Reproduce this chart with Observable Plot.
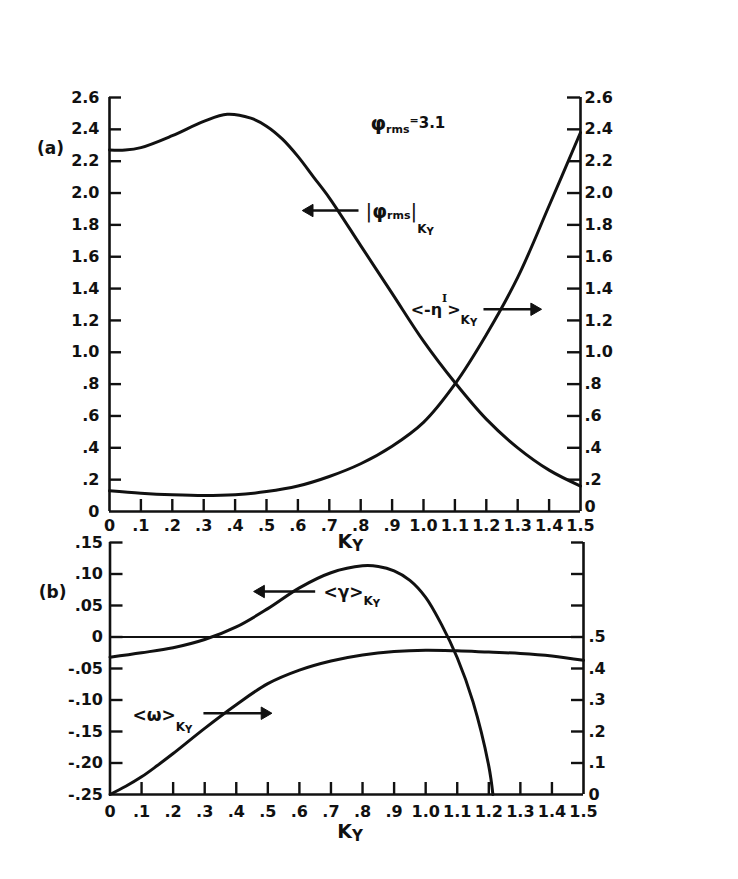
<!DOCTYPE html>
<html>
<head>
<meta charset="utf-8">
<script src="https://cdn.jsdelivr.net/npm/d3@7"></script>
<script src="https://cdn.jsdelivr.net/npm/@observablehq/plot@0.6"></script>
<style>
  html, body { margin: 0; padding: 0; background: #fff; }
  #fig { position: relative; width: 738px; height: 879px; overflow: hidden; background: #fff; }
  #fig svg { position: absolute; left: 0; }
</style>
</head>
<body>
<div id="fig"></div>
<script>
// ---- panel (a): rms potential and <-eta^I> versus K_Y ----
const kyPhi  = [0, 0.05, 0.1, 0.2, 0.3, 0.375, 0.45, 0.5, 0.55, 0.6, 0.65, 0.7, 0.8, 0.9, 1.0, 1.1, 1.2, 1.3, 1.4, 1.5];
const phiRms = [2.27, 2.27, 2.285, 2.36, 2.45, 2.495, 2.47, 2.42, 2.34, 2.23, 2.10, 1.97, 1.67, 1.37, 1.07, 0.81, 0.58, 0.40, 0.26, 0.16];

const kyEta = [0, 0.1, 0.2, 0.3, 0.4, 0.5, 0.6, 0.7, 0.8, 0.9, 1.0, 1.1, 1.2, 1.3, 1.4, 1.5];
const etaI  = [0.13, 0.115, 0.105, 0.10, 0.105, 0.125, 0.16, 0.22, 0.30, 0.41, 0.56, 0.80, 1.11, 1.47, 1.92, 2.38];

// ---- panel (b): growth rate <gamma> (left axis) and frequency <omega> (right axis) ----
const kyGamma   = [0, 0.1, 0.2, 0.3, 0.4, 0.5, 0.6, 0.7, 0.8, 0.85, 0.9, 0.95, 1.0, 1.05, 1.1, 1.15, 1.2, 1.213];
const gammaVals = [-0.032, -0.025, -0.017, -0.004, 0.016, 0.045, 0.078, 0.102, 0.113, 0.112, 0.105, 0.090, 0.063, 0.020, -0.033, -0.103, -0.205, -0.25];

const kyOmega   = [0, 0.05, 0.1, 0.15, 0.2, 0.3, 0.4, 0.5, 0.6, 0.7, 0.8, 0.9, 1.0, 1.1, 1.2, 1.3, 1.4, 1.5];
const omegaVals = [0, 0.026, 0.056, 0.092, 0.13, 0.21, 0.285, 0.352, 0.395, 0.424, 0.443, 0.454, 0.458, 0.456, 0.452, 0.448, 0.44, 0.426];

// ---- tick values ----
const kyTicks    = [0, 0.1, 0.2, 0.3, 0.4, 0.5, 0.6, 0.7, 0.8, 0.9, 1.0, 1.1, 1.2, 1.3, 1.4, 1.5];
const topTicks   = [0, 0.2, 0.4, 0.6, 0.8, 1.0, 1.2, 1.4, 1.6, 1.8, 2.0, 2.2, 2.4, 2.6];
const gammaTicks = [-0.25, -0.20, -0.15, -0.10, -0.05, 0, 0.05, 0.10, 0.15];
const omegaTicks = [0, 0.1, 0.2, 0.3, 0.4, 0.5];

const FONT = "DejaVu Sans";
const ink = "#111";
const TICK_FONT = 16;

const fmtTop   = d => Math.abs(d) < 1e-9 ? "0" : d < 1 ? d.toFixed(1).slice(1) : d.toFixed(1);
const fmtGamma = d => Math.abs(d) < 1e-9 ? "0" : (d < 0 ? "-" : "") + Math.abs(d).toFixed(2).slice(1);
const fmtOmega = v => v < 1e-9 ? "0" : v.toFixed(1).slice(1);

// omega is read on the right axis: 0..0.5 spans the same height as -0.25..0
const omegaToLeft = v => v / 2 - 0.25;
const leftToOmega = d => (d + 0.25) * 2;

const zip = (xs, ys) => xs.map((x, i) => ({x, y: ys[i]}));

// a run of text pieces (for sub/superscripts), laid out left to right
const meas = document.createElement("canvas").getContext("2d");
function textRun(x, y, parts) {
  let off = 0;
  return parts.map(p => {
    const weight = p.weight ?? "bold", family = p.family ?? FONT;
    const m = Plot.text([{x, y}], {
      x: "x", y: "y", text: () => p.text,
      dx: off + (p.dx ?? 0), dy: p.dy ?? 0,
      textAnchor: "start", lineAnchor: "middle",
      fontSize: p.size, fontWeight: weight, fontFamily: family, fill: ink
    });
    meas.font = `${weight} ${p.size}px "${family}"`;
    off += meas.measureText(p.text).width + (p.dx ?? 0) + (p.gap ?? 0);
    return m;
  });
}

// horizontal arrow with a solid head at (xTip, y)
function arrow(xFrom, xTip, y, pxPerUnit) {
  const dir = Math.sign(xTip - xFrom);
  const back = 4 / pxPerUnit;
  return [
    Plot.link([{x1: xFrom, x2: xTip - dir * back, y}], {x1: "x1", x2: "x2", y1: "y", y2: "y", stroke: ink, strokeWidth: 2.6}),
    Plot.dot([{x: xTip - dir * back, y}], {x: "x", y: "y", symbol: "triangle", r: 4.6, fill: ink, stroke: ink, strokeWidth: 1, rotate: dir > 0 ? 90 : -90})
  ];
}

// ---------------- panel (a) ----------------
const aLeft = 109, aRight = 580;
const aPx = (aRight - aLeft) / 1.5;        // pixels per unit K_Y
const aPy = (511 - 97) / 2.6;              // pixels per unit value
const plotA = Plot.plot({
  width: 738, height: 556,
  marginLeft: aLeft, marginRight: 738 - aRight, marginTop: 97, marginBottom: 45,
  x: {domain: [0, 1.5]},
  y: {domain: [0, 2.6]},
  style: {fontFamily: FONT, fontSize: TICK_FONT + "px", fontWeight: "bold", background: "none", overflow: "visible", color: ink},
  marks: [
    // frame: left, right and bottom axes
    Plot.ruleX([0, 1.5], {stroke: ink, strokeWidth: 2.6}),
    Plot.ruleY([0], {stroke: ink, strokeWidth: 2.6}),
    // inward ticks
    Plot.ruleY(topTicks.filter(d => d > 0), {x1: 0, x2: 12 / aPx, stroke: ink, strokeWidth: 2.4}),
    Plot.ruleY(topTicks.filter(d => d > 0), {x1: 1.5 - 13 / aPx, x2: 1.5, stroke: ink, strokeWidth: 2.4}),
    Plot.ruleX(kyTicks.filter(d => d > 0 && d < 1.5), {y1: 0, y2: 12 / aPy, stroke: ink, strokeWidth: 2.4}),
    // tick labels
    Plot.axisY(topTicks, {anchor: "left", tickSize: 0, tickPadding: 10, tickFormat: fmtTop, label: null, fontSize: TICK_FONT}),
    Plot.axisY(topTicks.filter(d => d > 0), {anchor: "right", tickSize: 0, tickPadding: 4, tickFormat: fmtTop, label: null, fontSize: TICK_FONT}),
    Plot.axisY([0], {anchor: "right", tickSize: 0, tickPadding: 4, tickFormat: fmtTop, label: null, fontSize: TICK_FONT, dy: -5}),
    Plot.axisX(kyTicks, {anchor: "bottom", tickSize: 0, tickPadding: 8, tickFormat: fmtTop, label: null, fontSize: TICK_FONT}),
    // curves
    Plot.line(zip(kyPhi, phiRms), {x: "x", y: "y", curve: "catmull-rom", stroke: ink, strokeWidth: 3}),
    Plot.line(zip(kyEta, etaI), {x: "x", y: "y", curve: "catmull-rom", stroke: ink, strokeWidth: 3}),
    // annotations
    Plot.text([{x: -0.188, y: 2.28}], {x: "x", y: "y", text: () => "(a)", fontSize: 17, fontWeight: "bold", fill: ink}),
    ...textRun(0.831, 2.437, [
      {text: "φ", size: 20},
      {text: "rms", size: 11, dy: 6},
      {text: "=", size: 11, dy: -3},
      {text: "3.1", size: 15}
    ]),
    ...arrow(0.793, 0.624, 1.89, aPx),
    ...textRun(0.815, 1.884, [
      {text: "|", size: 20, weight: "normal"},
      {text: "φ", size: 19},
      {text: "rms", size: 11, dy: 4},
      {text: "|", size: 20, weight: "normal"},
      {text: "K", size: 12, dy: 18},
      {text: "Y", size: 10, dy: 20}
    ]),
    ...textRun(0.959, 1.269, [
      {text: "<-η", size: 16},
      {text: "I", size: 11, dy: -11, family: "DejaVu Serif"},
      {text: ">", size: 16},
      {text: "K", size: 12, dy: 11},
      {text: "Y", size: 10, dy: 13}
    ]),
    ...arrow(1.191, 1.366, 1.27, aPx),
    // axis title
    ...textRun(0.726, -0.19, [
      {text: "K", size: 19},
      {text: "Y", size: 15, dy: 4}
    ])
  ]
});
plotA.style.top = "0px";
document.getElementById("fig").appendChild(plotA);

// ---------------- panel (b) ----------------
const bLeft = 109.5, bRight = 583, bTop = 520;
const bPx = (bRight - bLeft) / 1.5;
const bPy = (794 - 542) / 0.4;
const plotB = Plot.plot({
  width: 738, height: 350,
  marginLeft: bLeft, marginRight: 738 - bRight, marginTop: 542 - bTop, marginBottom: 350 - (794 - bTop),
  x: {domain: [0, 1.5]},
  y: {domain: [-0.25, 0.15]},
  style: {fontFamily: FONT, fontSize: TICK_FONT + "px", fontWeight: "bold", background: "none", overflow: "visible", color: ink},
  marks: [
    Plot.ruleX([0, 1.5], {stroke: ink, strokeWidth: 2.6}),
    Plot.ruleY([-0.25], {stroke: ink, strokeWidth: 2.6}),
    Plot.ruleY([0], {stroke: ink, strokeWidth: 2}),
    Plot.ruleY(gammaTicks.filter(d => d > -0.25), {x1: 0, x2: 13 / bPx, stroke: ink, strokeWidth: 2.4}),
    Plot.ruleY(gammaTicks.filter(d => d > -0.25), {x1: 1.5 - 12 / bPx, x2: 1.5, stroke: ink, strokeWidth: 2.4}),
    Plot.ruleX(kyTicks.filter(d => d > 0 && d < 1.5), {y1: -0.25, y2: -0.25 + 12 / bPy, stroke: ink, strokeWidth: 2.4}),
    Plot.axisY(gammaTicks, {anchor: "left", tickSize: 0, tickPadding: 7, tickFormat: fmtGamma, label: null, fontSize: TICK_FONT}),
    Plot.axisY(omegaTicks.map(omegaToLeft), {anchor: "right", tickSize: 0, tickPadding: 5, tickFormat: d => fmtOmega(leftToOmega(d)), label: null, fontSize: TICK_FONT}),
    Plot.axisX(kyTicks, {anchor: "bottom", tickSize: 0, tickPadding: 11, tickFormat: fmtTop, label: null, fontSize: TICK_FONT}),
    Plot.line(zip(kyGamma, gammaVals), {x: "x", y: "y", curve: "catmull-rom", stroke: ink, strokeWidth: 3}),
    Plot.line(zip(kyOmega, omegaVals.map(omegaToLeft)), {x: "x", y: "y", curve: "catmull-rom", stroke: ink, strokeWidth: 3}),
    Plot.text([{x: -0.182, y: 0.0706}], {x: "x", y: "y", text: () => "(b)", fontSize: 17, fontWeight: "bold", fill: ink}),
    ...arrow(0.650, 0.465, 0.0722, bPx),
    ...textRun(0.676, 0.0706, [
      {text: "<γ>", size: 17},
      {text: "K", size: 12, dy: 9},
      {text: "Y", size: 10, dy: 11}
    ]),
    ...textRun(0.071, -0.1246, [
      {text: "<ω>", size: 17},
      {text: "K", size: 12, dy: 12},
      {text: "Y", size: 10, dy: 14}
    ]),
    ...arrow(0.296, 0.503, -0.121, bPx),
    ...textRun(0.72, -0.309, [
      {text: "K", size: 19},
      {text: "Y", size: 15, dy: 5}
    ])
  ]
});
plotB.style.top = bTop + "px";
document.getElementById("fig").appendChild(plotB);
</script>
</body>
</html>
